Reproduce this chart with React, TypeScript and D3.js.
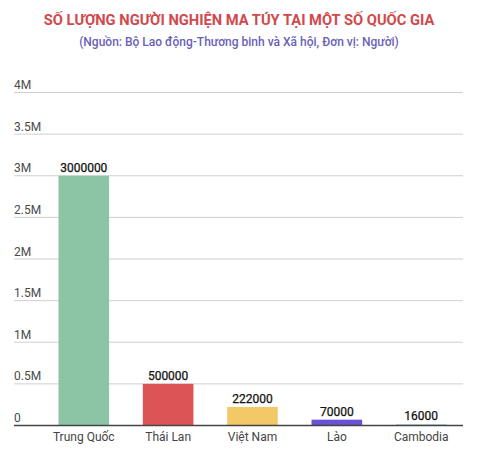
import { useEffect, useRef } from "react";
import * as d3 from "d3";

const countries = ["Trung Quốc", "Thái Lan", "Việt Nam", "Lào", "Cambodia"];
const addicts = [3000000, 500000, 222000, 70000, 16000];
const barColors = ["#8cc5a6", "#dd5457", "#f2c966", "#6b51d6", "#a9d6e8"];
const yTicks = [0, 500000, 1000000, 1500000, 2000000, 2500000, 3000000, 3500000, 4000000];
const yTickLabels = ["0", "0.5M", "1M", "1.5M", "2M", "2.5M", "3M", "3.5M", "4M"];

const title = "SỐ LƯỢNG NGƯỜI NGHIỆN MA TÚY TẠI MỘT SỐ QUỐC GIA";
const subtitle = "(Nguồn: Bộ Lao động-Thương binh và Xã hội, Đơn vị: Người)";

const App = () => {
  const chartRef = useRef<SVGSVGElement | null>(null);

  useEffect(() => {
    document.body.style.margin = "0";
    if (!chartRef.current) return;
    d3.select(chartRef.current).selectAll("*").remove();

    const width = 480,
      height = 454;
    const gridLeft = 14,
      gridRight = 463;

    const svg = d3
      .select(chartRef.current)
      .attr("width", width)
      .attr("height", height)
      .style("font-family", "Roboto, sans-serif")
      .style("background", "#fff");

    svg
      .append("text")
      .attr("x", 239)
      .attr("y", 25)
      .attr("text-anchor", "middle")
      .attr("fill", "#d0494d")
      .style("font-size", "14.7px")
      .style("font-weight", "700")
      .text(title);

    svg
      .append("text")
      .attr("x", 239)
      .attr("y", 46)
      .attr("text-anchor", "middle")
      .attr("fill", "#6a5fb8")
      .style("font-size", "12px")
      .style("font-weight", "500")
      .text(subtitle);

    const x = d3
      .scaleBand()
      .domain(countries)
      .range([41.6, 463.4])
      .paddingInner(0.4)
      .paddingOuter(0.2);

    const y = d3.scaleLinear().domain([0, 4000000]).range([425.5, 92.5]);

    // gridlines + tick labels
    const grid = svg.append("g");
    grid
      .selectAll("line")
      .data(yTicks.filter((t) => t > 0))
      .enter()
      .append("line")
      .attr("x1", gridLeft)
      .attr("x2", gridRight)
      .attr("y1", (d) => y(d))
      .attr("y2", (d) => y(d))
      .attr("stroke", "#cfcfcf")
      .attr("stroke-width", 1);

    grid
      .selectAll("text")
      .data(yTicks)
      .enter()
      .append("text")
      .attr("x", gridLeft)
      .attr("y", (d) => y(d) - 3.5)
      .attr("fill", "#4a4a4a")
      .style("font-size", "12px")
      .text((_, i) => yTickLabels[i]);

    const data = countries.map((c, i) => ({ name: c, value: addicts[i], color: barColors[i] }));

    svg
      .selectAll("rect.bar")
      .data(data)
      .enter()
      .append("rect")
      .attr("class", "bar")
      .attr("x", (d) => x(d.name)!)
      .attr("y", (d) => y(d.value))
      .attr("width", x.bandwidth())
      .attr("height", (d) => y(0) - y(d.value))
      .attr("fill", (d) => d.color);

    svg
      .selectAll("text.value")
      .data(data)
      .enter()
      .append("text")
      .attr("class", "value")
      .attr("x", (d) => x(d.name)! + x.bandwidth() / 2)
      .attr("y", (d) => y(d.value) - 4)
      .attr("text-anchor", "middle")
      .attr("fill", "#111")
      .style("font-size", "12px")
      .style("stroke", "#111")
      .style("stroke-width", "0.25px")
      .text((d) => String(d.value));

    // baseline
    svg
      .append("line")
      .attr("x1", gridLeft)
      .attr("x2", gridRight)
      .attr("y1", y(0))
      .attr("y2", y(0))
      .attr("stroke", "#444")
      .attr("stroke-width", 1.5);

    svg
      .selectAll("text.cat")
      .data(countries)
      .enter()
      .append("text")
      .attr("class", "cat")
      .attr("x", (d) => x(d)! + x.bandwidth() / 2)
      .attr("y", 441)
      .attr("text-anchor", "middle")
      .attr("fill", "#444")
      .style("font-size", "12px")
      .text((d) => d);
  }, []);

  return <svg ref={chartRef}></svg>;
};

export default App;
